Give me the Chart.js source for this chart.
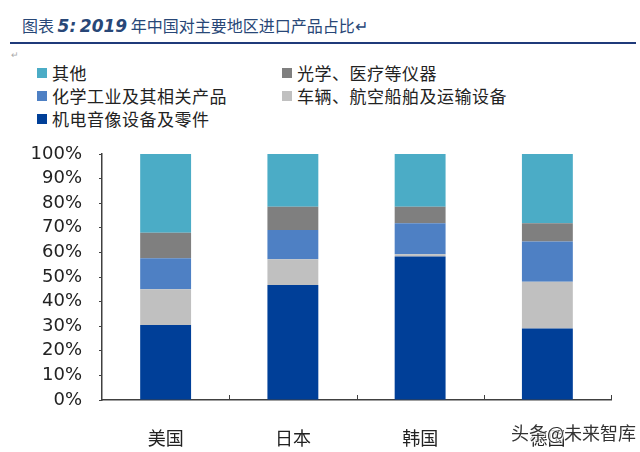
<!DOCTYPE html>
<html>
<head>
<meta charset="utf-8">
<script src="https://cdn.jsdelivr.net/npm/chart.js@4.4.0/dist/chart.umd.min.js"></script>
<style>
  body { margin: 0; width: 640px; height: 452px; background: #fff; position: relative; overflow: hidden; font-family: "Noto Sans CJK SC", sans-serif; }
  #title { position: absolute; left: 22px; top: 12px; font-size: 16px; color: #284777; white-space: nowrap; line-height: 26px; }
  #title i { font-family: "DejaVu Sans", sans-serif; font-weight: bold; font-size: 17px; }
  #rule { position: absolute; left: 10px; top: 42px; width: 626px; height: 2px; background: #1f3a7a; }
  #mark { position: absolute; left: 11px; top: 48px; font-size: 9px; color: #aaa; }
  #legend { position: absolute; left: 37px; top: 61px; display: grid; grid-template-columns: 245px 300px; row-gap: 0px; }
  .item { display: flex; align-items: center; font-size: 17px; color: #222; line-height: 23px; height: 23px; letter-spacing: 0.5px; }
  .sw { width: 10px; height: 10px; margin-right: 5px; flex: none; }
  #wm { position: absolute; left: 511px; top: 419px; font-size: 18px; color: #333; white-space: nowrap;
        text-shadow: 0 0 2px #fff, 0 0 2px #fff, 1px 1px 1px #fff, -1px -1px 1px #fff; }
  canvas { position: absolute; left: 0; top: 0; }
</style>
</head>
<body>
<div id="title">图表 <i>5:</i> <i>2019</i> 年中国对主要地区进口产品占比↵</div>
<div id="rule"></div>
<div id="mark">↵</div>
<div id="legend"></div>
<canvas id="chart" width="640" height="452"></canvas>
<div id="wm">头条@未来智库</div>
<script>
// categories and series (percent share, bottom to top of each stack)
const categories = ["美国", "日本", "韩国", "德国"];
const seriesNames = ["机电音像设备及零件", "车辆、航空船舶及运输设备", "化学工业及其相关产品", "光学、医疗等仪器", "其他"];
const mechElec = [30.5, 46.7, 58.3, 29.1];
const vehicles = [14.5, 10.5, 0.9, 19.0];
const chemical = [12.6, 11.9, 12.6, 16.3];
const optical = [10.4, 9.5, 6.8, 7.4];
const others = [32.0, 21.4, 21.4, 28.2];
const yTicks = [0, 10, 20, 30, 40, 50, 60, 70, 80, 90, 100];

const colors = ["#003f98", "#c0c0c0", "#4e80c4", "#7f7f7f", "#4bacc6"];
const seriesValues = [mechElec, vehicles, chemical, optical, others];

// legend (html, two columns, top series first)
const legend = document.getElementById("legend");
for (let i = seriesNames.length - 1; i >= 0; i--) {
  const d = document.createElement("div");
  d.className = "item";
  d.innerHTML = '<span class="sw" style="background:' + colors[i] + '"></span>' + seriesNames[i];
  legend.appendChild(d);
}

// short tick marks pointing up from the x axis at category boundaries
const innerTicks = {
  id: "innerTicks",
  afterDraw(chart) {
    const x = chart.scales.x;
    const ctx = chart.ctx;
    const half = (x.getPixelForValue(1) - x.getPixelForValue(0)) / 2;
    ctx.save();
    ctx.strokeStyle = "#404040";
    ctx.lineWidth = 1;
    for (let i = 0; i < categories.length; i++) {
      const px = Math.round(x.getPixelForValue(i) + half) + 0.5;
      ctx.beginPath();
      ctx.moveTo(px, x.top);
      ctx.lineTo(px, x.top - 5);
      ctx.stroke();
    }
    ctx.restore();
  }
};

const ctx = document.getElementById("chart").getContext("2d");
new Chart(ctx, {
  type: "bar",
  data: {
    labels: categories,
    datasets: seriesNames.map((name, i) => ({
      label: name,
      data: seriesValues[i],
      backgroundColor: colors[i],
      borderWidth: 0,
      barPercentage: 0.4,
      categoryPercentage: 1.0
    }))
  },
  options: {
    responsive: false,
    animation: false,
    layout: { padding: { top: 154, right: 29, left: 0, bottom: 0 } },
    plugins: { legend: { display: false }, tooltip: { enabled: false } },
    scales: {
      x: {
        stacked: true,
        afterFit: (s) => { s.height = 52; },
        grid: { display: false },
        border: { display: true, color: "#404040", width: 1.5 },
        ticks: { color: "#222", padding: 19, font: { family: "Noto Sans CJK SC", size: 18 } }
      },
      y: {
        stacked: true,
        min: 0,
        max: 100,
        afterFit: (s) => { s.width = 102; },
        afterBuildTicks: (s) => { s.ticks = yTicks.map(v => ({ value: v })); },
        grid: { display: true, drawOnChartArea: false, drawTicks: true, tickLength: 3, color: "#404040" },
        border: { display: true, color: "#404040", width: 1.5 },
        ticks: {
          color: "#222",
          padding: 17,
          font: { family: "DejaVu Sans", size: 18 },
          callback: (v) => v + "%"
        }
      }
    }
  },
  plugins: [innerTicks]
});
</script>
</body>
</html>
